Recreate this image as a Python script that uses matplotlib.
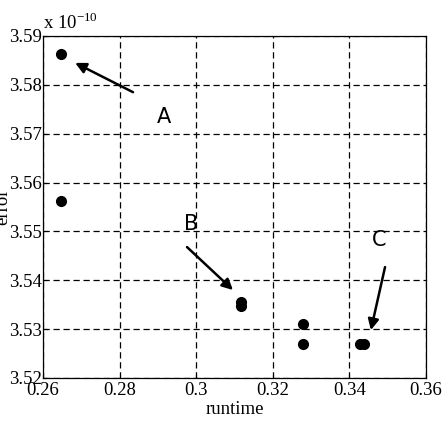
import numpy as np
import matplotlib
matplotlib.use('Agg')
import matplotlib.pyplot as plt

# runtime vs error (error in units of 1e-10)
runtime = [0.2647, 0.2647, 0.3117, 0.3117, 0.3279, 0.3279, 0.3428, 0.3438]
error = [3.5863, 3.5562, 3.5356, 3.5348, 3.5311, 3.5270, 3.5270, 3.5270]

xticks = [0.26, 0.28, 0.3, 0.32, 0.34, 0.36]
xtick_labels = ['0.26', '0.28', '0.3', '0.32', '0.34', '0.36']
yticks = [3.52, 3.53, 3.54, 3.55, 3.56, 3.57, 3.58, 3.59]
ytick_labels = ['3.52', '3.53', '3.54', '3.55', '3.56', '3.57', '3.58', '3.59']

# annotations: label, label position, arrow tail, arrow head
notes = [
    ('A', (0.2916, 3.5734), (0.2835, 3.5785), (0.2684, 3.5845)),
    ('B', (0.2986, 3.5515), (0.2976, 3.5468), (0.3096, 3.5380)),
    ('C', (0.3477, 3.5482), (0.3493, 3.5427), (0.3456, 3.5298)),
]

plt.rcParams['font.family'] = 'Liberation Serif'

fig = plt.figure(figsize=(4.44, 4.26), dpi=100)
ax = fig.add_axes([0.0968, 0.1127, 0.8627, 0.8028])

ax.plot(runtime, error, 'o', color='black', markersize=7, zorder=3)

ax.set_xlim(0.26, 0.36)
ax.set_ylim(3.52, 3.59)
ax.set_xticks(xticks)
ax.set_xticklabels(xtick_labels)
ax.set_yticks(yticks)
ax.set_yticklabels(ytick_labels)
ax.tick_params(direction='in', length=3, labelsize=13.5, pad=1, colors='black')
ax.tick_params(axis='x', pad=3)
ax.grid(True, color='black', linestyle=(0, (5, 3)), linewidth=0.9)
for s in ax.spines.values():
    s.set_linewidth(0.9)

ax.set_xlabel('runtime', fontsize=13.5, labelpad=1)
fig.text(-0.014, 0.514, 'error', rotation=90, va='center', ha='left', fontsize=13.5)
ax.text(0.0, 1.01, r'x 10$^{\mathregular{-10}}$', transform=ax.transAxes,
        fontsize=13.5, ha='left', va='bottom')

for lab, lpos, tail, head in notes:
    ax.annotate('', xy=head, xytext=tail,
                arrowprops=dict(arrowstyle='-|>', color='black', lw=1.8,
                                mutation_scale=16, shrinkA=0, shrinkB=0))
    ax.text(lpos[0], lpos[1], lab, fontsize=15, family='DejaVu Sans',
            ha='center', va='center')

fig.savefig('out.png', dpi=100)
